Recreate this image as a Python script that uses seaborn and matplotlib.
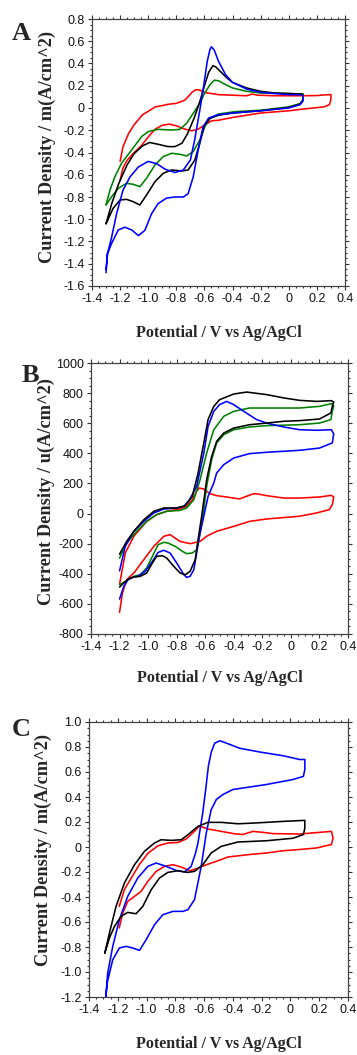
import numpy as np
import pandas as pd
import matplotlib
matplotlib.use("Agg")
import matplotlib.pyplot as plt
import seaborn as sns
from matplotlib.ticker import MultipleLocator, FuncFormatter

# ---------------- data : panel A (mA/cm^2) ----------------
A_red_x = [-1.2, -1.18, -1.14, -1.1, -1.04, -1.0, -0.95, -0.9, -0.86, -0.8, -0.74, -0.71, -0.69, -0.66,
           -0.63, -0.6, -0.55, -0.5, -0.4, -0.3, -0.26, -0.22, -0.1, 0.0, 0.1, 0.2, 0.28, 0.3, 0.3, 0.29,
           0.25, 0.1, 0.0, -0.2, -0.4, -0.5, -0.55, -0.6, -0.645, -0.69, -0.74, -0.8, -0.85, -0.9, -0.95,
           -1.0, -1.05, -1.1, -1.15, -1.18, -1.2]
A_red_y = [-0.48, -0.35, -0.23, -0.15, -0.06, -0.03, 0.01, 0.022, 0.033, 0.042, 0.07, 0.11, 0.14, 0.165,
           0.16, 0.14, 0.13, 0.12, 0.115, 0.11, 0.125, 0.115, 0.11, 0.11, 0.11, 0.112, 0.12, 0.12, 0.08, 0.03,
           0.01, -0.01, -0.025, -0.045, -0.085, -0.11, -0.115, -0.155, -0.19, -0.205, -0.19, -0.16, -0.145,
           -0.155, -0.19, -0.26, -0.34, -0.4, -0.47, -0.54, -0.65]

A_blue_x = [-1.3, -1.29, -1.26, -1.225, -1.18, -1.13, -1.07, -1.0, -0.94, -0.88, -0.81, -0.75, -0.7, -0.67,
            -0.633, -0.61, -0.58, -0.56, -0.55, -0.53, -0.5, -0.45, -0.4, -0.3, -0.2, -0.1,
            0.0, 0.08, 0.1, 0.1, 0.08,
            0.0, -0.2, -0.4, -0.5, -0.57, -0.61, -0.645, -0.68, -0.716, -0.75, -0.81, -0.87, -0.93, -0.976,
            -1.024, -1.07, -1.118, -1.166, -1.213, -1.26, -1.29, -1.3]
A_blue_y = [-1.48, -1.31, -1.16, -0.95, -0.74, -0.62, -0.53, -0.48, -0.5, -0.55, -0.58, -0.557, -0.467, -0.29,
            -0.02, 0.16, 0.42, 0.53, 0.55, 0.52, 0.42, 0.3, 0.23, 0.17, 0.14, 0.13,
            0.12, 0.12, 0.11, 0.06, 0.03,
            0.0, -0.025, -0.045, -0.06, -0.09, -0.17, -0.38, -0.62, -0.77, -0.8, -0.8, -0.81, -0.86, -0.95,
            -1.1, -1.147, -1.096, -1.072, -1.096, -1.216, -1.31, -1.45]

A_black_x = [-1.3, -1.26, -1.21, -1.15, -1.1, -1.04, -0.99, -0.93, -0.86, -0.81, -0.76, -0.72, -0.67,
             -0.63, -0.6, -0.57, -0.54, -0.52, -0.48, -0.44, -0.4, -0.3, -0.2, -0.1, 0.0, 0.1,
             0.1, 0.08,
             0.0, -0.2, -0.4, -0.5, -0.56, -0.6, -0.633, -0.668, -0.716, -0.76, -0.834, -0.893, -0.952,
             -1.012, -1.06, -1.107, -1.154, -1.2, -1.25, -1.3]
A_black_y = [-1.04, -0.86, -0.68, -0.51, -0.41, -0.34, -0.31, -0.326, -0.347, -0.347, -0.317, -0.23, -0.08,
             0.07, 0.2, 0.32, 0.38, 0.37, 0.32, 0.27, 0.23, 0.18, 0.15, 0.135, 0.13, 0.125,
             0.07, 0.035,
             0.005, -0.025, -0.045, -0.065, -0.093, -0.153, -0.317, -0.467, -0.557, -0.566, -0.557, -0.587,
             -0.662, -0.782, -0.872, -0.842, -0.821, -0.827, -0.902, -1.04]

A_green_x = [-1.3, -1.272, -1.237, -1.19, -1.118, -1.047, -1.0, -0.93, -0.834, -0.775, -0.727, -0.68, -0.633,
             -0.6, -0.56, -0.53, -0.5, -0.45, -0.4, -0.3, -0.2, 0.0, 0.1, 0.1, 0.08,
             0.0, -0.2, -0.384, -0.5, -0.562, -0.597, -0.633, -0.68, -0.727, -0.775, -0.834, -0.893, -0.952,
             -1.012, -1.059, -1.107, -1.154, -1.213, -1.26, -1.3]
A_green_y = [-0.87, -0.737, -0.617, -0.497, -0.377, -0.257, -0.212, -0.192, -0.198, -0.192, -0.138, -0.048,
             0.042, 0.13, 0.21, 0.25, 0.245, 0.21, 0.18, 0.15, 0.135, 0.13, 0.125, 0.07, 0.04,
             0.01, -0.02, -0.033, -0.054, -0.093, -0.168, -0.287, -0.392, -0.431, -0.416, -0.407, -0.437,
             -0.512, -0.632, -0.707, -0.686, -0.677, -0.722, -0.797, -0.87]

# ---------------- data : panel B (uA/cm^2) ----------------
B_red_x = [-1.2, -1.16, -1.1, -1.01, -0.94, -0.87, -0.78, -0.73, -0.69, -0.66, -0.643, -0.61, -0.567, -0.52,
           -0.45, -0.36, -0.31, -0.26, -0.22, -0.17, -0.05, 0.06, 0.2, 0.283, 0.3, 0.29, 0.27,
           0.18, 0.06, -0.17, -0.29, -0.4, -0.52, -0.59, -0.636, -0.706, -0.776, -0.846, -0.89, -0.96, -1.03,
           -1.1, -1.15, -1.18, -1.2]
B_red_y = [-470, -262, -151, -52, -7, 15, 30, 48, 92, 148, 170, 163, 132, 119,
           110, 97, 115, 132, 128, 119, 103, 103, 110, 121, 110, 60, 26,
           4, -18, -36, -52, -85, -118, -151, -185, -200, -185, -140, -151, -218, -306,
           -395, -439, -528, -656]

B_blue_x = [-1.2, -1.16, -1.1, -1.03, -0.96, -0.89, -0.8, -0.75, -0.71, -0.66, -0.61, -0.58, -0.54, -0.5,
            -0.45, -0.4, -0.33, -0.24, -0.17, -0.05, 0.06, 0.18, 0.283, 0.3, 0.29,
            0.2, 0.06, -0.17, -0.29, -0.4, -0.47, -0.52, -0.54, -0.58, -0.61, -0.636, -0.66, -0.68, -0.706,
            -0.73, -0.75, -0.8, -0.846, -0.89, -0.93, -0.97, -1.02, -1.07, -1.1, -1.14, -1.17, -1.2]
B_blue_y = [-380, -218, -118, -52, 4, 30, 37, 48, 92, 181, 402, 579, 679, 723,
            745, 723, 679, 624, 601, 575, 557, 553, 557, 530, 469,
            435, 420, 407, 398, 369, 325, 269, 203, 114, -18, -129, -262, -373, -417,
            -424, -406, -328, -262, -244, -258, -317, -384, -417, -421, -439, -483, -568]

B_black_x = [-1.2, -1.15, -1.1, -1.03, -0.96, -0.89, -0.8, -0.74, -0.69, -0.65, -0.61, -0.58, -0.54, -0.5,
             -0.4, -0.31, -0.17, -0.05, 0.06, 0.18, 0.283, 0.3, 0.29, 0.28,
             0.2, 0.06, -0.05, -0.17, -0.29, -0.4, -0.47, -0.52, -0.555, -0.59, -0.625, -0.65, -0.67, -0.706,
             -0.74, -0.776, -0.82, -0.87, -0.9, -0.94, -0.97, -1.01, -1.055, -1.1, -1.14, -1.17, -1.2]
B_black_y = [-270, -184, -118, -41, 15, 37, 37, 52, 114, 269, 469, 624, 712, 756,
             794, 807, 790, 768, 752, 745, 750, 740, 712, 668,
             628, 617, 613, 601, 590, 568, 535, 480, 380, 225, -18, -173, -306, -384,
             -406, -395, -351, -295, -280, -284, -328, -395, -417, -421, -435, -461, -488]

B_green_x = [-1.2, -1.15, -1.08, -1.01, -0.94, -0.87, -0.776, -0.73, -0.68, -0.636, -0.59, -0.54, -0.47, -0.4,
             -0.29, -0.17, 0.06, 0.2, 0.283, 0.3, 0.29, 0.28,
             0.2, 0.06, -0.17, -0.29, -0.4, -0.47, -0.52, -0.555, -0.59, -0.61, -0.636, -0.66, -0.69, -0.73,
             -0.76, -0.81, -0.86, -0.89, -0.93, -0.97, -1.01, -1.055, -1.1, -1.14, -1.17, -1.2]
B_green_y = [-295, -196, -118, -52, -7, 15, 21, 37, 92, 225, 402, 557, 646, 679,
             701, 701, 701, 712, 730, 715, 679, 624,
             601, 590, 584, 575, 557, 524, 469, 358, 181, 26, -129, -240, -262, -266,
             -251, -218, -196, -191, -207, -284, -362, -406, -417, -439, -457, -472]

# ---------------- data : panel C (mA/cm^2) ----------------
C_red_x = [-1.19, -1.154, -1.107, -1.05, -0.99, -0.92, -0.85, -0.78, -0.725, -0.667, -0.635, -0.6, -0.574,
           -0.48, -0.39, -0.33, -0.26, -0.19, -0.12, 0.064, 0.285, 0.296, 0.285,
           0.18, 0.064, -0.05, -0.167, -0.283, -0.435, -0.516, -0.585, -0.643, -0.7, -0.759, -0.817,
           -0.875, -0.933, -0.991, -1.038, -1.084, -1.131, -1.165, -1.19]
C_red_y = [-0.475, -0.34, -0.25, -0.14, -0.05, 0.01, 0.032, 0.037, 0.064, 0.125, 0.165, 0.155, 0.144,
           0.125, 0.106, 0.1, 0.125, 0.117, 0.107, 0.104, 0.125, 0.072, 0.02,
           -0.008, -0.02, -0.03, -0.048, -0.06, -0.08, -0.115, -0.142, -0.17, -0.19, -0.16, -0.142,
           -0.155, -0.195, -0.275, -0.355, -0.395, -0.435, -0.528, -0.648]

C_blue_x = [-1.29, -1.27, -1.235, -1.189, -1.131, -1.061, -0.991, -0.933, -0.864, -0.794, -0.736, -0.69,
            -0.66, -0.643, -0.61, -0.59, -0.57, -0.55, -0.527, -0.49, -0.42, -0.353, -0.214, -0.05, 0.064,
            0.1, 0.1, 0.09,
            0.018, -0.167, -0.283, -0.4, -0.469, -0.515, -0.551, -0.585, -0.62, -0.667, -0.713, -0.748,
            -0.817, -0.887, -0.945, -1.003, -1.049, -1.096, -1.142, -1.189, -1.235, -1.274, -1.29]
C_blue_y = [-1.3, -1.008, -0.795, -0.582, -0.395, -0.248, -0.155, -0.128, -0.155, -0.187, -0.2, -0.155,
            -0.05, 0.03, 0.27, 0.45, 0.65, 0.76, 0.83, 0.85, 0.82, 0.79, 0.76, 0.73, 0.70,
            0.70, 0.62, 0.565,
            0.54, 0.50, 0.48, 0.46, 0.42, 0.38, 0.298, 0.112, -0.155, -0.422, -0.502, -0.515,
            -0.515, -0.542, -0.622, -0.742, -0.827, -0.808, -0.795, -0.808, -0.902, -1.088, -1.3]

C_black_x = [-1.29, -1.258, -1.212, -1.154, -1.084, -1.015, -0.945, -0.899, -0.829, -0.759, -0.713, -0.643,
             -0.574, -0.481, -0.365, -0.283, -0.167, -0.05, 0.1, 0.1, 0.09,
             0.018, -0.167, -0.365, -0.481, -0.551, -0.609, -0.667, -0.713, -0.783, -0.852, -0.91, -0.968,
             -1.026, -1.073, -1.131, -1.177, -1.223, -1.258, -1.29]
C_black_y = [-0.848, -0.688, -0.475, -0.288, -0.142, -0.035, 0.032, 0.058, 0.053, 0.058, 0.098, 0.165,
             0.197, 0.197, 0.186, 0.19, 0.197, 0.205, 0.213, 0.15, 0.10,
             0.07, 0.05, 0.04, 0.005, -0.048, -0.142, -0.195, -0.203, -0.19, -0.203, -0.248, -0.342,
             -0.475, -0.534, -0.523, -0.555, -0.635, -0.728, -0.848]

x_label = "Potential / V vs Ag/AgCl"
y_labels = ["Current Density / m(A/cm^2)", "Current Density / u(A/cm^2)", "Current Density / m(A/cm^2)"]
panel_letters = ["A", "B", "C"]

colors = {"red": "#ff0000", "blue": "#0000ff", "green": "#008000", "black": "#000000"}


def make_df(curves):
    frames = []
    for name, (xs, ys) in curves.items():
        frames.append(pd.DataFrame({"x": xs, "y": ys, "curve": name}))
    return pd.concat(frames, ignore_index=True)


panels = [
    dict(df=make_df({"red": (A_red_x, A_red_y), "green": (A_green_x, A_green_y),
                     "black": (A_black_x, A_black_y), "blue": (A_blue_x, A_blue_y)}),
         order=["red", "green", "black", "blue"],
         ylim=(-1.6, 0.8), ymaj=0.2, ymin=0.05, yfmt="f1",
         rect=[92 / 357, 1 - 286 / 1055, 253 / 357, 267 / 1055],
         ylab_xy=(-0.178, 0.519), xlab_y=-0.176, letter_xy=(21, 33)),
    dict(df=make_df({"red": (B_red_x, B_red_y), "green": (B_green_x, B_green_y),
                     "blue": (B_blue_x, B_blue_y), "black": (B_black_x, B_black_y)}),
         order=["red", "green", "blue", "black"],
         ylim=(-800, 1000), ymaj=200, ymin=50, yfmt="f0",
         rect=[91 / 357, 1 - 634 / 1055, 257 / 357, 271 / 1055],
         ylab_xy=(-0.175, 0.526), xlab_y=-0.162, letter_xy=(30, 375)),
    dict(df=make_df({"red": (C_red_x, C_red_y), "blue": (C_blue_x, C_blue_y),
                     "black": (C_black_x, C_black_y)}),
         order=["red", "blue", "black"],
         ylim=(-1.2, 1.0), ymaj=0.2, ymin=0.05, yfmt="f1",
         rect=[89 / 357, 1 - 997 / 1055, 259 / 357, 275 / 1055],
         ylab_xy=(-0.176, 0.535), xlab_y=-0.171, letter_xy=(21, 730)),
]

sns.set_theme(style="ticks")
plt.rcParams["font.family"] = ["Liberation Sans", "DejaVu Sans"]

W, H = 357, 1055
fig = plt.figure(figsize=(W / 100, H / 100), dpi=100)


def fmt1(v, pos):
    if abs(v) < 1e-9:
        return "0"
    return f"{v:.1f}"


def fmt0(v, pos):
    return f"{v:.0f}"


serif = ["Liberation Serif", "DejaVu Serif"]

for k, p in enumerate(panels):
    ax = fig.add_axes(p["rect"])
    sns.lineplot(data=p["df"], x="x", y="y", hue="curve", hue_order=p["order"], palette=colors,
                 sort=False, estimator=None, units="curve", legend=False, lw=1.15, ax=ax)
    ax.set_xlim(-1.4, 0.4)
    ax.set_ylim(*p["ylim"])
    ax.xaxis.set_major_locator(MultipleLocator(0.2))
    ax.xaxis.set_minor_locator(MultipleLocator(0.05))
    ax.yaxis.set_major_locator(MultipleLocator(p["ymaj"]))
    ax.yaxis.set_minor_locator(MultipleLocator(p["ymin"]))
    ax.xaxis.set_major_formatter(FuncFormatter(fmt1))
    ax.yaxis.set_major_formatter(FuncFormatter(fmt1 if p["yfmt"] == "f1" else fmt0))
    ax.tick_params(which="both", direction="out", top=True, right=True, colors="#333333",
                   labelcolor="#111111", labelsize=9, width=0.8)
    ax.tick_params(which="major", length=3.2, pad=2)
    ax.tick_params(which="minor", length=1.6)
    for s in ax.spines.values():
        s.set_color("#444444")
        s.set_linewidth(0.9)
    ax.set_xlabel(x_label, fontfamily=serif, fontweight="bold", fontsize=11.5, va="center")
    ax.xaxis.set_label_coords(0.5, p["xlab_y"])
    ax.set_ylabel(y_labels[k], fontfamily=serif, fontweight="bold", fontsize=13.2, va="center")
    ax.yaxis.set_label_coords(*p["ylab_xy"])
    lx, ly = p["letter_xy"]
    fig.text(lx / W, 1 - ly / H, panel_letters[k], fontfamily=serif, fontweight="bold",
             fontsize=19, ha="center", va="center")

fig.savefig("out.png", dpi=100, facecolor="white")
